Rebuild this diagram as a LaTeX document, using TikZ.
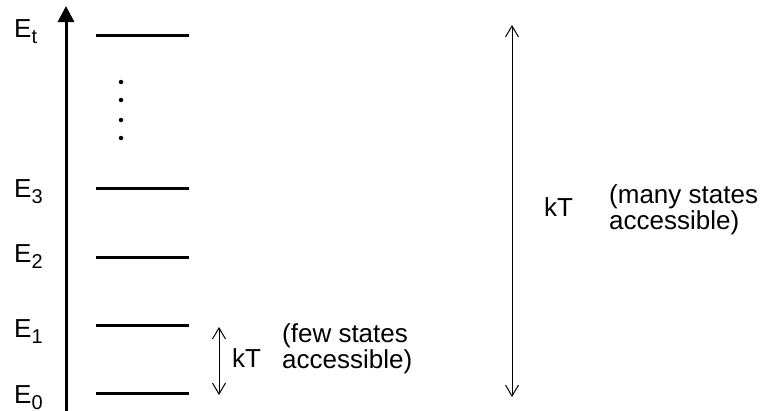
\documentclass[tikz,border=0pt]{standalone}
\usepackage{fontspec}
\setmainfont{Liberation Sans}
\usetikzlibrary{arrows.meta}
\definecolor{thin}{HTML}{555555}
\tikzset{
  lbl/.style={anchor=base west, inner sep=0pt, font=\fontsize{26}{28}\selectfont},
  desc/.style={anchor=base west, inner sep=0pt, font=\fontsize{26}{28}\selectfont},
  level/.style={line width=3pt},
  axisline/.style={line width=3pt, -{Triangle[length=16pt,width=16pt]}},
  kTarrow/.style={thin, line width=1pt, {Straight Barb[length=11pt,width=13pt,line width=1pt]}-{Straight Barb[length=11pt,width=13pt,line width=1pt]}},
  dotmark/.style={fill=black, circle, inner sep=0pt, minimum size=4.5pt}
}
\newcommand{\Esub}[1]{E\raisebox{-6pt}{\fontsize{20}{20}\selectfont #1}}
\begin{document}
\begin{tikzpicture}[x=1pt,y=-1pt]
\useasboundingbox (0,0) rectangle (770,410);
% axis
\coordinate (axb) at (66,412);
\coordinate (axt) at (66,6);
\draw[axisline] (axb) -- (axt);
% levels
\foreach \n/\y in {t/35,3/188,2/257,1/325,0/393}{
  \coordinate (L\n a) at (96,\y);
  \coordinate (L\n b) at (189,\y);
  \draw[level] (L\n a) -- (L\n b);
}
% labels
\node[lbl] (Et) at (14,37) {\Esub{t}};
\node[lbl] (E3) at (14,197) {\Esub{3}};
\node[lbl] (E2) at (14,262) {\Esub{2}};
\node[lbl] (E1) at (14,337) {\Esub{1}};
\node[lbl] (E0) at (14,403) {\Esub{0}};
% dots
\foreach \y/\i in {82/a,100/b,120/c,138/d}{
  \node[dotmark] (d\i) at (121,\y) {};
}
% small kT
\coordinate (sa) at (219,327);
\coordinate (sb) at (219,395);
\draw[kTarrow] (sa) -- (sb);
\node[lbl] (kTs) at (232,367) {kT};
\node[desc] (fewA) at (282,342) {(few states};
\node[desc] (fewB) at (282,368) {accessible)};
% big kT
\coordinate (ba) at (512,25);
\coordinate (bb) at (512,397);
\draw[kTarrow] (ba) -- (bb);
\node[lbl] (kTb) at (544,216) {kT};
\node[desc] (manyA) at (609,203) {(many states};
\node[desc] (manyB) at (609,229) {accessible)};
\end{tikzpicture}
\end{document}
